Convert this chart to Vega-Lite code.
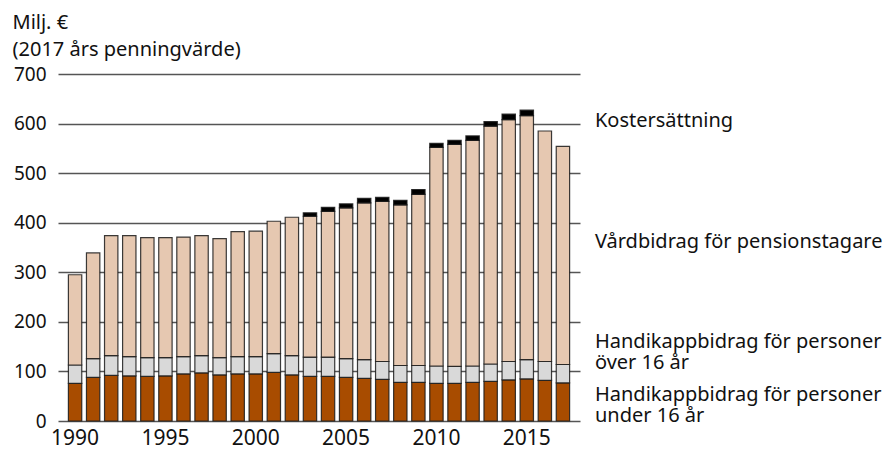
{
  "$schema": "https://vega.github.io/schema/vega-lite/v6.json",
  "width": 522,
  "height": 347,
  "autosize": "none",
  "padding": {"left": 58, "top": 74, "right": 309, "bottom": 29},
  "background": "white",
  "config": {
    "view": {"stroke": null},
    "font": "Noto Sans",
    "axis": {"labelFont": "Noto Sans", "titleFont": "Noto Sans", "labelColor": "#111", "titleColor": "#111"}
  },
  "layer": [
    {
      "data": {
        "values": [
          {"year": 1990, "s1_u16": 76, "s2_o16": 37, "s3_vard": 182},
          {"year": 1991, "s1_u16": 88, "s2_o16": 38, "s3_vard": 213},
          {"year": 1992, "s1_u16": 92, "s2_o16": 40, "s3_vard": 242},
          {"year": 1993, "s1_u16": 91, "s2_o16": 39, "s3_vard": 244},
          {"year": 1994, "s1_u16": 90, "s2_o16": 38, "s3_vard": 242},
          {"year": 1995, "s1_u16": 91, "s2_o16": 37, "s3_vard": 242},
          {"year": 1996, "s1_u16": 95, "s2_o16": 35, "s3_vard": 241},
          {"year": 1997, "s1_u16": 97, "s2_o16": 35, "s3_vard": 242},
          {"year": 1998, "s1_u16": 93, "s2_o16": 35, "s3_vard": 240},
          {"year": 1999, "s1_u16": 95, "s2_o16": 35, "s3_vard": 252},
          {"year": 2000, "s1_u16": 95, "s2_o16": 35, "s3_vard": 253},
          {"year": 2001, "s1_u16": 98, "s2_o16": 38, "s3_vard": 267},
          {"year": 2002, "s1_u16": 93, "s2_o16": 39, "s3_vard": 279},
          {"year": 2003, "s1_u16": 90, "s2_o16": 39, "s3_vard": 284, "s4_kost": 7},
          {"year": 2004, "s1_u16": 90, "s2_o16": 39, "s3_vard": 294, "s4_kost": 8},
          {"year": 2005, "s1_u16": 88, "s2_o16": 38, "s3_vard": 304, "s4_kost": 8},
          {"year": 2006, "s1_u16": 86, "s2_o16": 38, "s3_vard": 316, "s4_kost": 9},
          {"year": 2007, "s1_u16": 84, "s2_o16": 36, "s3_vard": 323, "s4_kost": 8},
          {"year": 2008, "s1_u16": 78, "s2_o16": 34, "s3_vard": 324, "s4_kost": 9},
          {"year": 2009, "s1_u16": 78, "s2_o16": 34, "s3_vard": 345, "s4_kost": 10},
          {"year": 2010, "s1_u16": 76, "s2_o16": 35, "s3_vard": 441, "s4_kost": 8},
          {"year": 2011, "s1_u16": 76, "s2_o16": 34, "s3_vard": 448, "s4_kost": 8},
          {"year": 2012, "s1_u16": 78, "s2_o16": 33, "s3_vard": 455, "s4_kost": 9},
          {"year": 2013, "s1_u16": 80, "s2_o16": 35, "s3_vard": 480, "s4_kost": 9},
          {"year": 2014, "s1_u16": 83, "s2_o16": 37, "s3_vard": 488, "s4_kost": 11},
          {"year": 2015, "s1_u16": 85, "s2_o16": 39, "s3_vard": 492, "s4_kost": 11},
          {"year": 2016, "s1_u16": 82, "s2_o16": 38, "s3_vard": 465},
          {"year": 2017, "s1_u16": 77, "s2_o16": 37, "s3_vard": 440}
        ]
      },
      "transform": [
        {"fold": ["s1_u16", "s2_o16", "s3_vard", "s4_kost"], "as": ["serie", "value"]},
        {"filter": "isValid(datum.value) && datum.value > 0"}
      ],
      "mark": {"type": "bar", "stroke": "#1a1a1a", "strokeWidth": 1.2, "strokeOpacity": 0.85},
      "encoding": {
        "x": {
          "field": "year", "type": "ordinal",
          "scale": {"paddingInner": 0.26, "paddingOuter": 0.575},
          "axis": {
            "values": [1990, 1995, 2000, 2005, 2010, 2015],
            "title": null, "domain": false, "ticks": false,
            "labelFontSize": 21, "labelPadding": 6, "labelAngle": 0
          }
        },
        "y": {
          "field": "value", "type": "quantitative", "stack": "zero",
          "scale": {"domain": [0, 700]},
          "axis": {
            "values": [0, 100, 200, 300, 400, 500, 600, 700],
            "domain": false, "ticks": false,
            "grid": true, "gridColor": "#555", "gridWidth": 1.3,
            "labelFontSize": 19, "labelPadding": 12,
            "title": ["Milj. €", "(2017 års penningvärde)"],
            "titleAngle": 0, "titleAlign": "left", "titleBaseline": "alphabetic",
            "titleFontSize": 20, "titleFontWeight": "normal", "titleLineHeight": 27,
            "titleX": -46, "titleY": -46
          }
        },
        "color": {
          "field": "serie", "type": "nominal",
          "scale": {
            "domain": ["s1_u16", "s2_o16", "s3_vard", "s4_kost"],
            "range": ["#a84c00", "#d9d9d9", "#e6c8b1", "#000000"]
          },
          "legend": null
        },
        "order": {"field": "serie", "sort": "ascending"}
      }
    },
    {
      "data": {
        "values": [
          {"label": "Kostersättning", "pos": 594},
          {"label": "Vårdbidrag för pensionstagare", "pos": 348},
          {"label": "Handikappbidrag för personer\növer 16 år", "pos": 148},
          {"label": "Handikappbidrag för personer\nunder 16 år", "pos": 40}
        ]
      },
      "mark": {"type": "text", "align": "left", "baseline": "alphabetic", "dx": 32, "fontSize": 20, "lineHeight": 21, "lineBreak": "\n", "color": "#111"},
      "encoding": {
        "x": {"datum": 2017, "type": "ordinal"},
        "y": {"field": "pos", "type": "quantitative"},
        "text": {"field": "label"}
      }
    },
    {
      "mark": {"type": "rule", "color": "#111", "strokeWidth": 1.2, "xOffset": 9, "x2Offset": 31},
      "encoding": {
        "x": {"datum": 2017, "type": "ordinal"},
        "x2": {"datum": 2017},
        "y": {"datum": 106},
        "y2": {"datum": 145}
      }
    }
  ]
}
